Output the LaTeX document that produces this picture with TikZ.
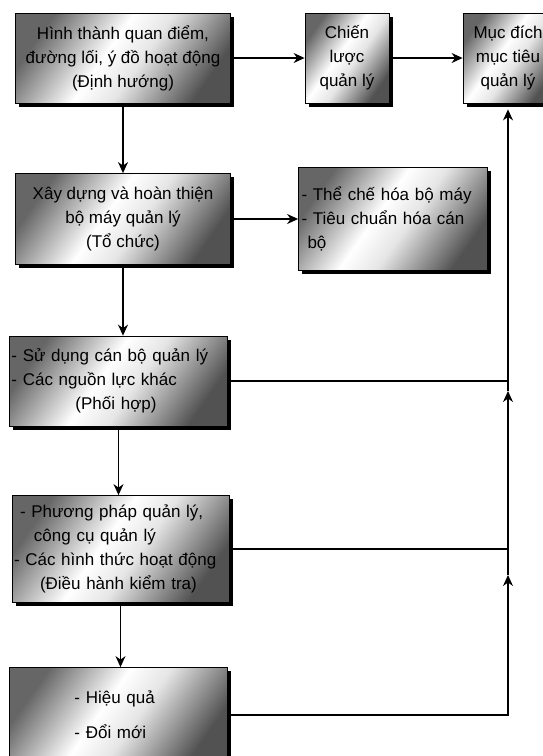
\documentclass[tikz,border=0pt]{standalone}
\usepackage{fontspec}
\setmainfont{Liberation Sans}
\usetikzlibrary{positioning,shadows,arrows.meta}

\pgfdeclarehorizontalshading{boxshade}{100bp}{color(0bp)=(black!60); color(25bp)=(black!60); color(45bp)=(white); color(55bp)=(white!90!black); color(75bp)=(black!68); color(100bp)=(black!68)}

\begin{document}
\begin{tikzpicture}[x=1pt,y=-1pt,on grid,line width=1.2pt,
    >={Stealth[length=11pt,width=10pt,inset=3.5pt]},
    box/.style={draw,line width=0.8pt,shade,shading=boxshade,shading angle=-35,
      drop shadow={shadow xshift=3.5pt,shadow yshift=-3.5pt,fill=black,opacity=1},
      font=\fontsize{17}{24}\selectfont,align=center,inner sep=2pt}]
	\useasboundingbox (0,0) rectangle (542,756);

	\node[box,minimum width=215pt,minimum height=90pt] (dinhhuong) at (123,58) {Hình thành quan điểm,\\ đường lối, ý đồ hoạt động\\ (Định hướng)};
	\node[box,minimum width=84pt,minimum height=90pt] (chienluoc) [right=224pt of dinhhuong] {Chiến\\ lược\\ quản lý};
	\node[box,minimum width=90pt,minimum height=90pt] (mucdich) [right=161pt of chienluoc] {Mục đích\\ mục tiêu\\ quản lý};

	\node[box,minimum width=215pt,minimum height=91pt] (tochuc) [below=161pt of dinhhuong] {Xây dựng và hoàn thiện\\ bộ máy quản lý\\ (Tổ chức)};
	\node[box,text width=183pt,minimum height=103pt,align=left,inner xsep=3pt] (thieche) [right=270pt of tochuc] {- Thể chế hóa bộ máy\\ - Tiêu chuẩn hóa cán\\ \hspace*{6pt}bộ};

	\node[box,text width=214pt,minimum height=90pt,align=left] (phoihop) [below left=162pt and 4.5pt of tochuc] {- Sử dụng cán bộ quản lý\\ - Các nguồn lực khác\\ \hspace*{64pt}(Phối hợp)};
	\node[box,text width=213pt,minimum height=107pt,align=left] (dieuhanh) [below right=168pt and 2pt of phoihop] {\hspace*{6pt}\makebox[196pt][s]{- Phương pháp quản lý,}\\ \hspace*{20pt}công cụ quản lý\\ - Các hình thức hoạt động\\ \hspace*{26pt}(Điều hành kiểm tra)};
	\node[box,text width=214pt,minimum height=95pt,align=left] (ketqua) [below left=166pt and 2pt of dieuhanh] {\hspace*{63pt}- Hiệu quả\\[11pt] \hspace*{63pt}- Đổi mới};

	\coordinate (j6) at (phoihop.east -| mucdich.south);
	\coordinate (j7) at (dieuhanh.east -| mucdich.south);
	\coordinate (j8) at (ketqua.east -| mucdich.south);
	\coordinate (a7) at ([yshift=-26pt]j7);
	\coordinate (a6) at ([yshift=-10pt]j6);
	\coordinate (a3) at ([yshift=-6pt]mucdich.south);

	\path[->]
	(dinhhuong) edge (chienluoc)
	(chienluoc) edge (mucdich)
	(tochuc) edge (thieche)
	(dinhhuong.south) edge (tochuc.north)
	(tochuc.south) edge (tochuc.south |- phoihop.north)
	(phoihop.south) edge (phoihop.south |- dieuhanh.north)
	(dieuhanh.south) edge (dieuhanh.south |- ketqua.north);

	\draw (phoihop) -- (j6);
	\draw (dieuhanh) -- (j7);
	\draw[->] (ketqua) -- (j8) -- (a7);
	\draw[->] (a7) -- (j7) -- (a6);
	\draw[->] (a6) -- (j6) -- (a3);
\end{tikzpicture}
\end{document}
